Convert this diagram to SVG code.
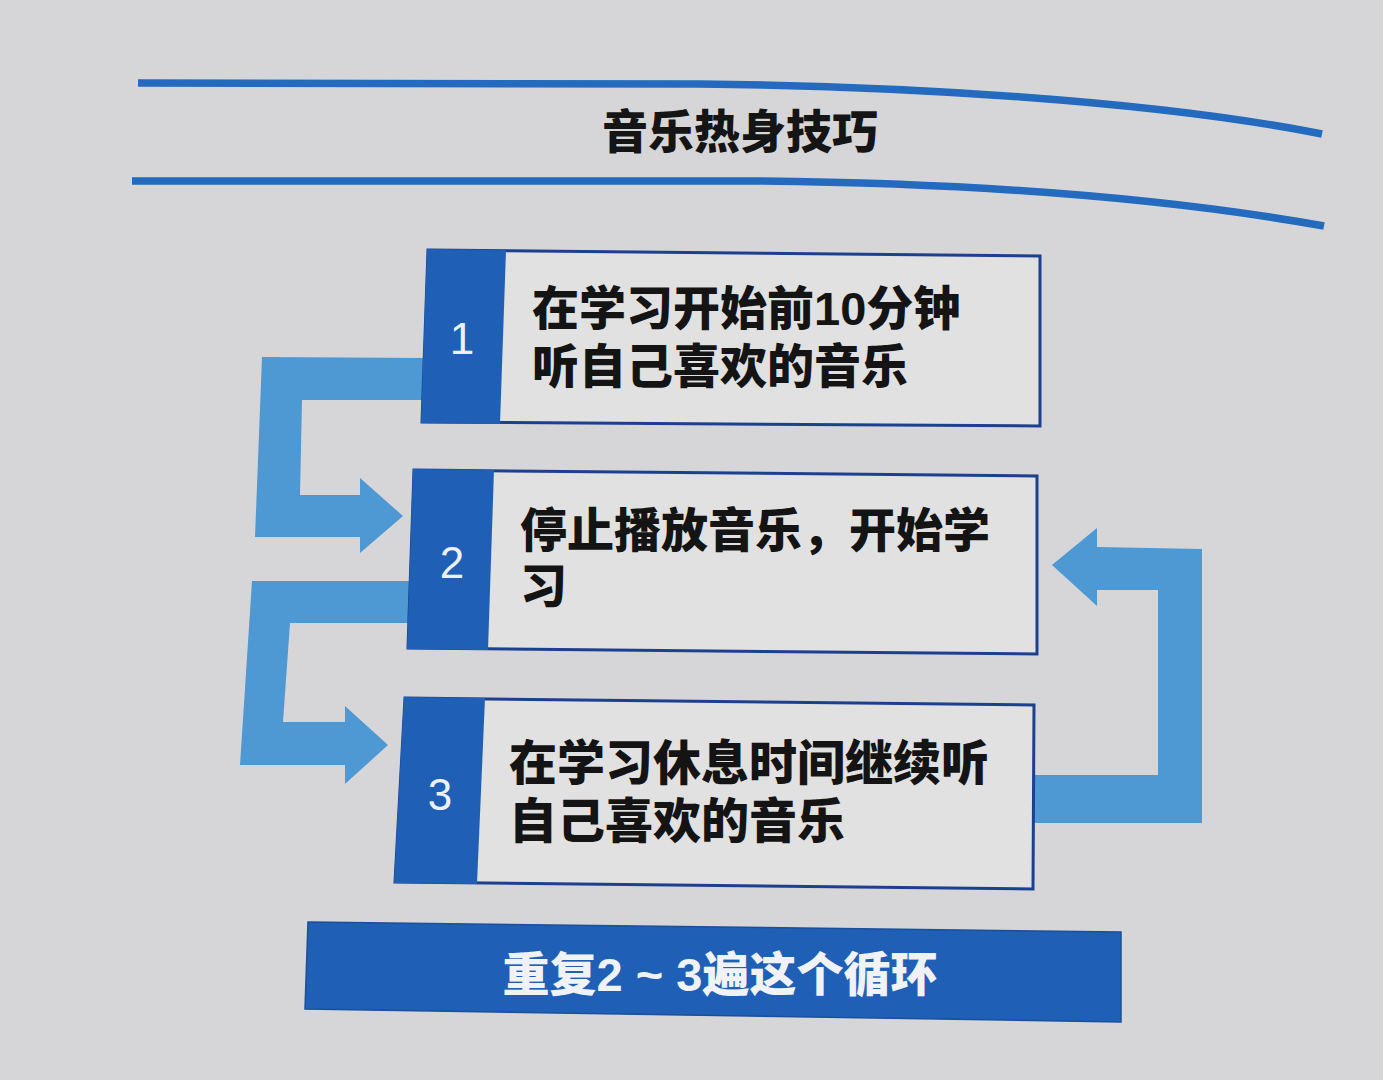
<svg xmlns="http://www.w3.org/2000/svg" width="1383" height="1080" viewBox="0 0 1383 1080">
<defs>
<style>
.bg{fill:#d6d6d8}
.rule{fill:none;stroke:#246bbf;stroke-width:7.5;stroke-linecap:butt}
.box{fill:#e1e1e2;stroke:#1c3f8f;stroke-width:3;stroke-linejoin:miter}
.tab{fill:#1f60b6}
.arrow{fill:#4e98d4}
.banner{fill:#1f60b6;stroke:#1a4f9c;stroke-width:1.5}
.title{font-family:"Liberation Sans","Noto Sans CJK SC",sans-serif;font-weight:900;font-size:46px;fill:#151515}
.txt{font-family:"Liberation Sans","Noto Sans CJK SC",sans-serif;font-weight:900;font-size:47px;fill:#141414}
.num{font-family:"Liberation Sans","Noto Sans",sans-serif;font-size:44px;fill:#eef2f8;text-anchor:middle}
.btxt{font-family:"Liberation Sans","Noto Sans CJK SC",sans-serif;font-weight:900;font-size:47px;fill:#f0f2f6;text-anchor:middle}
</style>
</defs>
<rect class="bg" x="0" y="0" width="1383" height="1080"/>

<g id="header">
<path class="rule" d="M138,83 L700,84 C900,86 1150,100 1322,134"/>
<path class="rule" d="M132,181 L760,181 C950,183 1150,195 1324,226"/>
<text class="title" x="740" y="148" text-anchor="middle">音乐热身技巧</text>
</g>

<g id="connectors">
<polygon class="arrow" points="430,358 262,357 255,537 360,537 360,553 403,516 360,478 360,495 300,495 302,400 430,400"/>
<polygon class="arrow" points="415,581 252,581 240,765 345,765 345,784 388,745 345,706 345,722 283,722 290,623 415,623"/>
<polygon class="arrow" points="1030,775 1158,775 1158,590 1097,590 1097,606 1052,565 1097,528 1097,547 1202,549 1202,823 1030,823"/>
</g>

<g id="step1">
<polygon class="box" points="428,250 1040,256 1040,426 422,422"/>
<polygon class="tab" points="427,249 506,250 500,424 421,423"/>
<text class="num" x="462" y="354">1</text>
<text class="txt" x="532" y="325">在学习开始前10分钟<tspan x="532" dy="58">听自己喜欢的音乐</tspan></text>
</g>

<g id="step2">
<polygon class="box" points="414,470 1037,476 1037,654 408,648"/>
<polygon class="tab" points="413,469 494,470 488,650 407,649"/>
<text class="num" x="452" y="578">2</text>
<text class="txt" x="520" y="547">停止播放音乐，开始学<tspan x="520" dy="56">习</tspan></text>
</g>

<g id="step3">
<polygon class="box" points="405,698 1034,705 1033,889 395,882"/>
<polygon class="tab" points="404,697 485,698 477,884 394,883"/>
<text class="num" x="440" y="810">3</text>
<text class="txt" x="509" y="780" style="font-size:48px">在学习休息时间继续听<tspan x="509" dy="58">自己喜欢的音乐</tspan></text>
</g>

<g id="repeat">
<polygon class="banner" points="308,922 1121,932 1121,1022 305,1009"/>
<text class="btxt" x="720" y="991">重复2 ~ 3遍这个循环</text>
</g>
</svg>
